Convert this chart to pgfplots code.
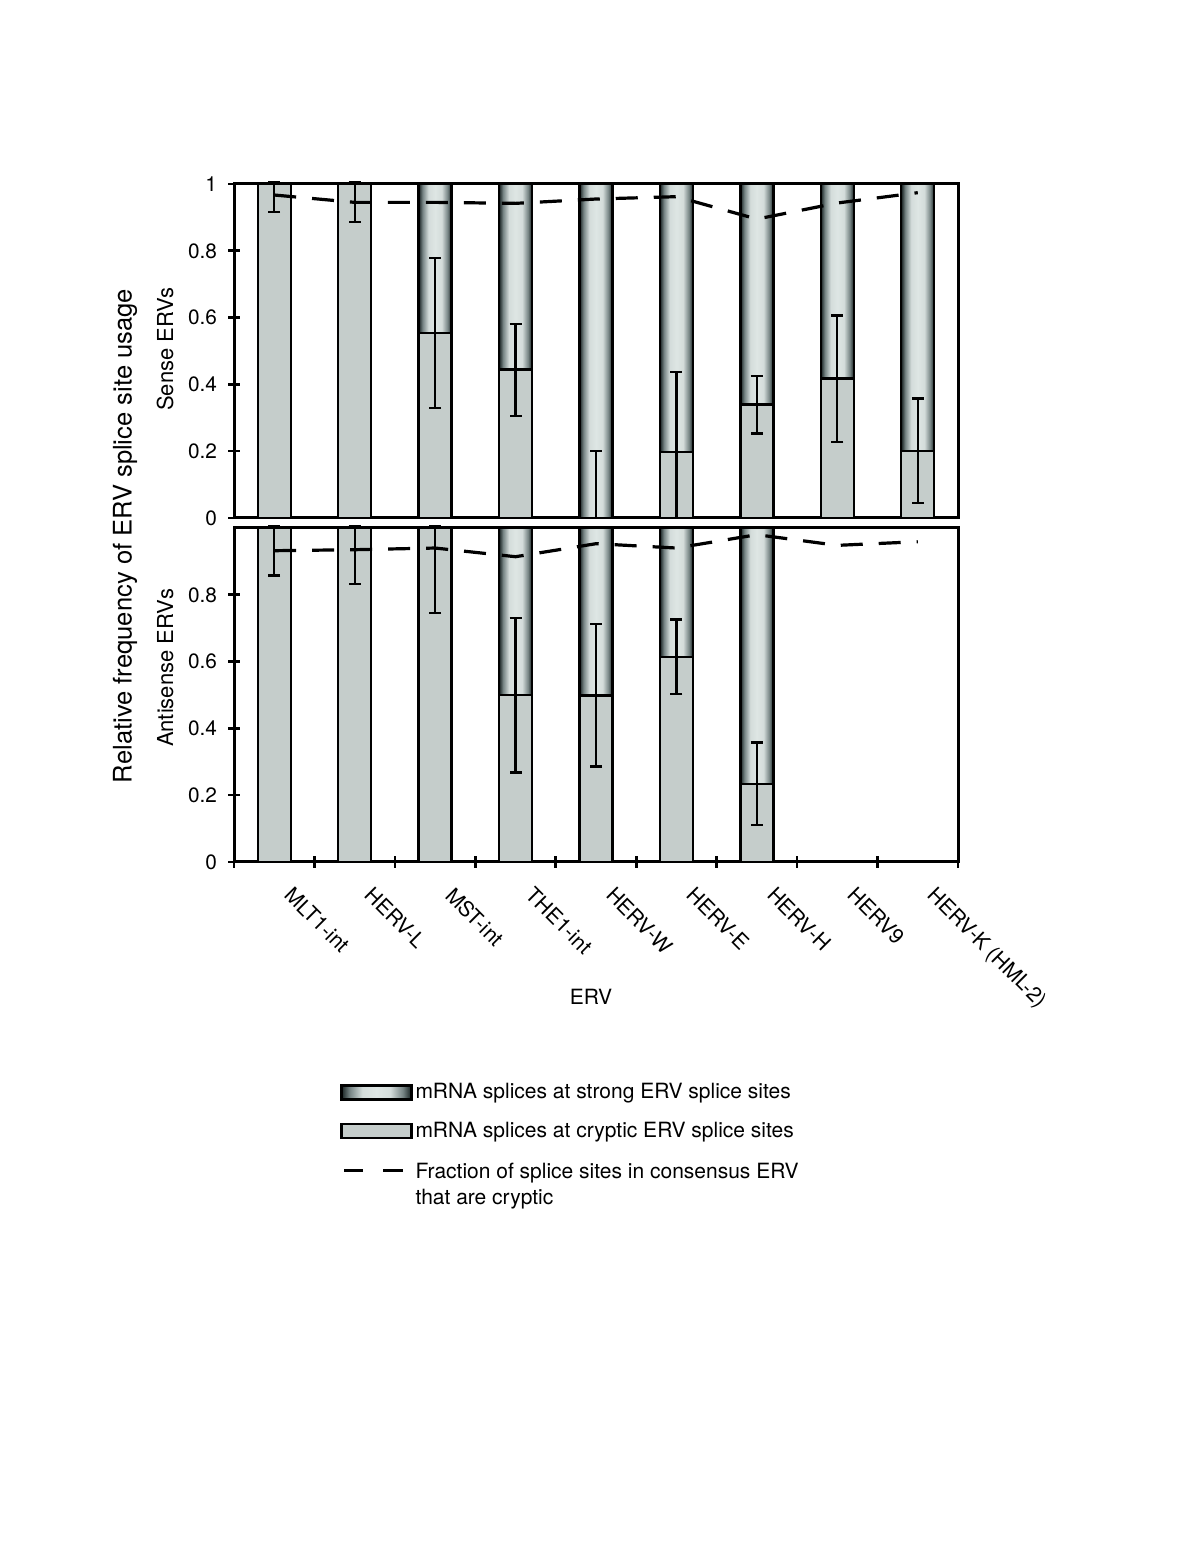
\documentclass[border=0pt]{standalone}
\usepackage{fontspec}
\setmainfont{TeX Gyre Heros}
\usepackage{pgfplots}
\pgfplotsset{compat=1.18}

\definecolor{cryptic}{RGB}{197,205,203}
\definecolor{erdark}{RGB}{22,32,32}
\definecolor{ermid}{RGB}{118,132,132}
\definecolor{erlight}{RGB}{222,230,228}
\pgfdeclarehorizontalshading{strongshade}{100bp}{color(0bp)=(erdark); color(25bp)=(erdark); color(31bp)=(ermid); color(40bp)=(erlight!90!ermid); color(50bp)=(erlight); color(60bp)=(erlight!90!ermid); color(69bp)=(ermid); color(75bp)=(erdark); color(100bp)=(erdark)}

\pgfplotsset{
  ervpanel/.style={
    scale only axis, width=362pt, height=167pt,
    xmin=-0.5, xmax=8.5, ymin=0, ymax=1,
    clip=false, tick pos=left, tick align=center,
    major tick length=6pt,
    axis line style={line width=1.5pt},
    every tick/.style={black, line width=1.3pt},
    /pgf/number format/assume math mode=true,
    yticklabel style={font=\fontsize{10.4}{12}\selectfont, xshift=-2pt},
    ylabel style={font=\fontsize{11}{13}\selectfont},
  },
  % one \addplot per bar, so that each bar gets its own shading
  strongbar/.style={ybar, bar width=16.5pt, bar shift=0pt, draw=black, line width=1.2pt,
    shade, shading=strongshade,
    legend image code/.code={\draw[line width=1.2pt, shade, shading=strongshade] (0pt,-3.5pt) rectangle (35pt,3.5pt);}},
  crypticbar/.style={ybar, bar width=16.5pt, bar shift=0pt, draw=black, line width=1.2pt, fill=cryptic,
    legend image code/.code={\draw[line width=1.2pt, fill=cryptic] (0pt,-3.5pt) rectangle (35pt,3.5pt);},
    error bars/.cd, y dir=both, y explicit,
    error bar style={line width=1.1pt, black},
    error mark options={rotate=90, mark size=3pt, line width=1.1pt, black}},
  fracline/.style={black, line width=1.6pt, dash pattern=on 11pt off 8pt, mark=none,
    legend image code/.code={\draw[line width=1.6pt] (1.5pt,0pt) -- (11pt,0pt) (21pt,0pt) -- (31pt,0pt);}},
}

\begin{document}
\begin{tikzpicture}
\path[use as bounding box] (0pt,0pt) rectangle (600pt,776.5pt);

% sense ERVs
\begin{axis}[ervpanel, at={(117pt,517.5pt)}, anchor=south west,
    xtick=\empty, ytick={0,0.2,0.4,0.6,0.8,1},
    ylabel={Sense ERVs},
    ylabel style={at={(axis description cs:-0.095,0.506)}, anchor=center}]
\addplot[strongbar] coordinates {(0,1)};
\addplot[strongbar] coordinates {(1,1)};
\addplot[strongbar] coordinates {(2,1)};
\addplot[strongbar] coordinates {(3,1)};
\addplot[strongbar] coordinates {(4,1)};
\addplot[strongbar] coordinates {(5,1)};
\addplot[strongbar] coordinates {(6,1)};
\addplot[strongbar] coordinates {(7,1)};
\addplot[strongbar] coordinates {(8,1)};
\addplot[crypticbar] coordinates {
    (0,1)     += (0,0.006) -= (0,0.084)
    (1,1)     += (0,0.006) -= (0,0.113)
    (2,0.553) += (0,0.226) -= (0,0.223)
    (3,0.445) += (0,0.136) -= (0,0.140)
    (4,0)     += (0,0.200) -= (0,0)
    (5,0.198) += (0,0.239) -= (0,0.198)
    (6,0.340) += (0,0.086) -= (0,0.087)
    (7,0.418) += (0,0.188) -= (0,0.190)
    (8,0.200) += (0,0.158) -= (0,0.154)};
\addplot[fracline] coordinates {
    (0,0.967) (1,0.945) (2,0.945) (3,0.942) (4,0.955)
    (5,0.962) (6,0.895) (7,0.943) (8,0.974)};
\end{axis}

% antisense ERVs
\begin{axis}[ervpanel, at={(117pt,345.5pt)}, anchor=south west,
    xtick={-0.5,0.5,...,8.5}, x tick label as interval,
    xticklabels={MLT1-int,HERV-L,MST-int,THE1-int,HERV-W,HERV-E,HERV-H,HERV9,HERV-K (HML-2)},
    xticklabel style={xshift=10pt, yshift=-4pt, rotate=-45, anchor=north west, font=\fontsize{10.5}{12}\selectfont},
    ytick={0,0.2,0.4,0.6,0.8},
    ylabel={Antisense ERVs},
    ylabel style={at={(axis description cs:-0.095,0.581)}, anchor=center},
    xlabel={ERV},
    xlabel style={at={(axis description cs:0.493,-0.404)}, anchor=center, font=\fontsize{10.5}{12}\selectfont},
    legend style={draw=none, fill=none, at={(axis description cs:0.146,-0.653)}, anchor=north west,
        font=\fontsize{10.5}{13}\selectfont, row sep=7pt, inner sep=0pt, nodes={inner sep=1.5pt}},
    legend cell align=left]
\addplot[strongbar] coordinates {(0,1)};
\addlegendentry{mRNA splices at strong ERV splice sites}
\addplot[strongbar, forget plot] coordinates {(1,1)};
\addplot[strongbar, forget plot] coordinates {(2,1)};
\addplot[strongbar, forget plot] coordinates {(3,1)};
\addplot[strongbar, forget plot] coordinates {(4,1)};
\addplot[strongbar, forget plot] coordinates {(5,1)};
\addplot[strongbar, forget plot] coordinates {(6,1)};
\addplot[crypticbar] coordinates {
    (0,1)     += (0,0.005) -= (0,0.142)
    (1,1)     += (0,0.005) -= (0,0.167)
    (2,1)     += (0,0.005) -= (0,0.254)
    (3,0.500) += (0,0.231) -= (0,0.232)
    (4,0.498) += (0,0.215) -= (0,0.212)
    (5,0.613) += (0,0.113) -= (0,0.110)
    (6,0.233) += (0,0.125) -= (0,0.122)};
\addlegendentry{mRNA splices at cryptic ERV splice sites}
\addplot[fracline] coordinates {
    (0,0.932) (1,0.935) (2,0.940) (3,0.914) (4,0.953)
    (5,0.940) (6,0.980) (7,0.948) (8,0.959)};
\addlegendentry{\begin{tabular}[t]{@{}l@{}}Fraction of splice sites in consensus ERV\\that are cryptic\end{tabular}}
\node[rotate=90, font=\fontsize{12.8}{15}\selectfont] at (axis description cs:-0.1506,0.976)
    {Relative frequency of ERV splice site usage};
\end{axis}
\end{tikzpicture}
\end{document}
